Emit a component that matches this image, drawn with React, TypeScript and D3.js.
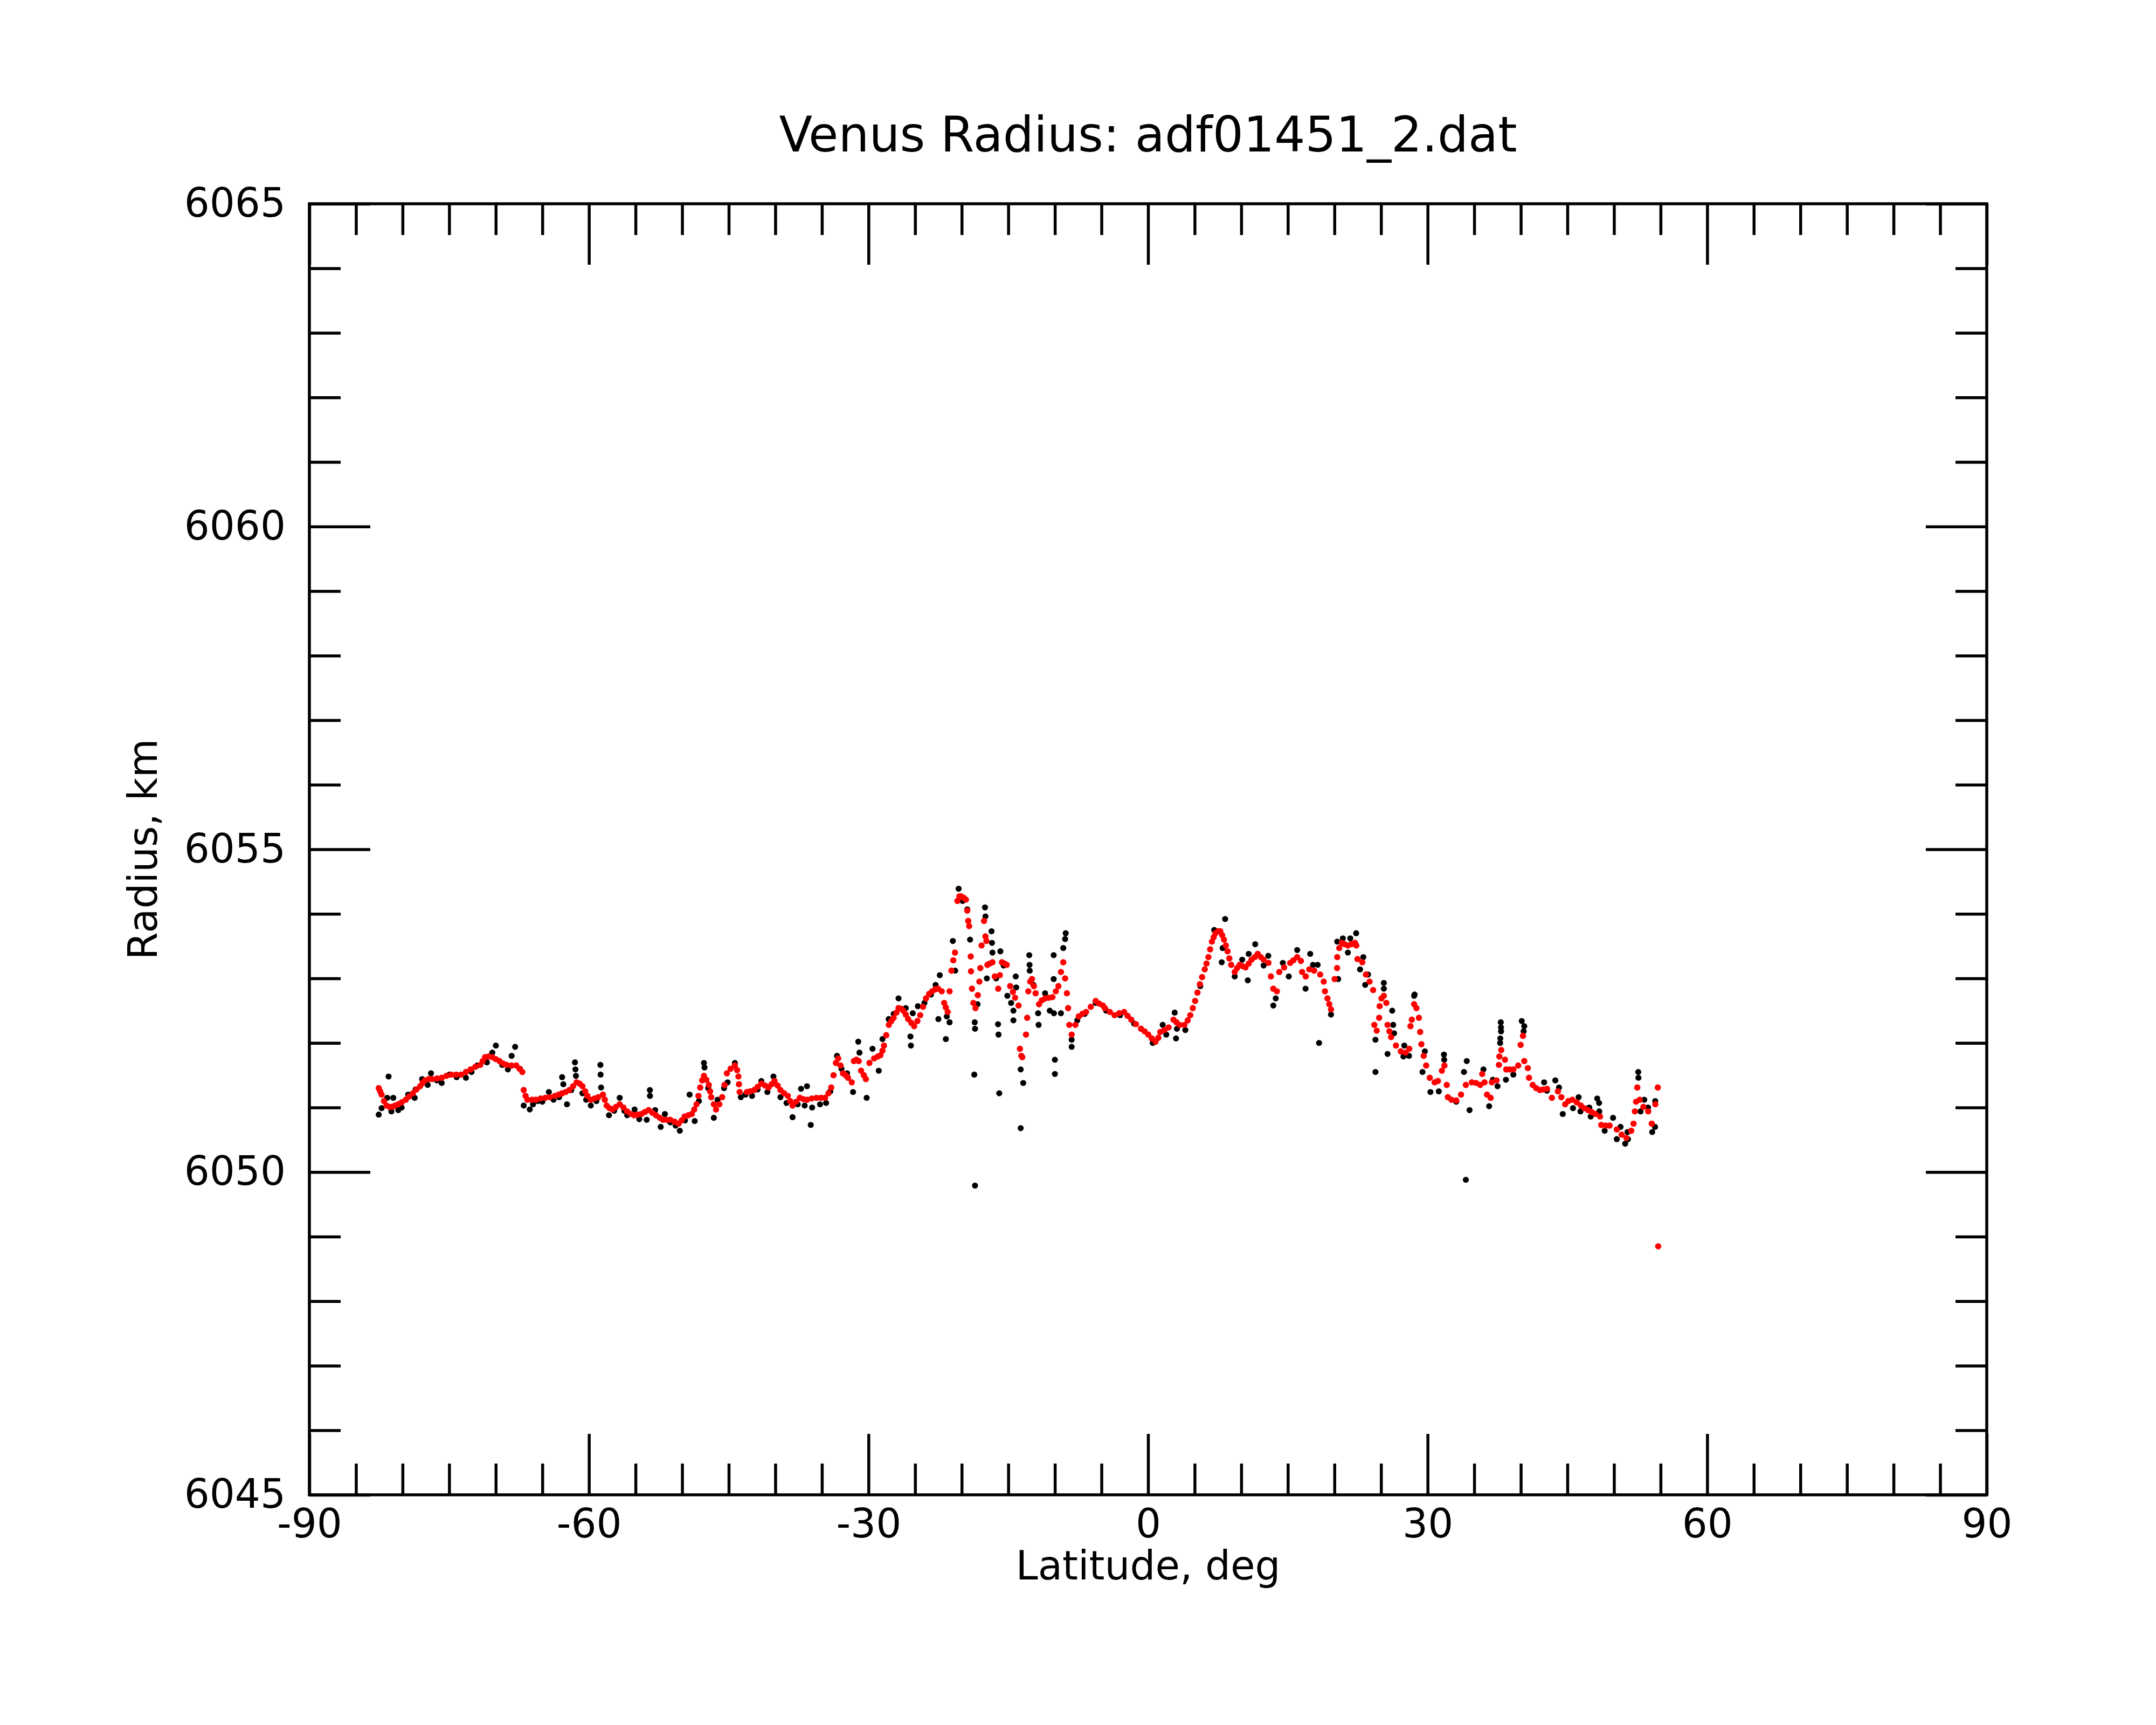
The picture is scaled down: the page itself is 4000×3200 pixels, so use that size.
import { useEffect, useRef } from 'react';
import * as d3 from 'd3';

const W = 4000;
const H = 3200;
const margin = { left: 574, right: 314, top: 378, bottom: 427 };

const title = 'Venus Radius: adf01451_2.dat';
const xLabel = 'Latitude, deg';
const yLabel = 'Radius, km';

const xMajorTicks = [-90, -60, -30, 0, 30, 60, 90];
const xMinorTicks = [-85, -80, -75, -70, -65, -55, -50, -45, -40, -35, -25, -20, -15, -10, -5, 5, 10, 15, 20, 25, 35, 40, 45, 50, 55, 65, 70, 75, 80, 85];
const yMajorTicks = [6045, 6050, 6055, 6060, 6065];
const yMinorTicks = [6046, 6047, 6048, 6049, 6051, 6052, 6053, 6054, 6056, 6057, 6058, 6059, 6061, 6062, 6063, 6064];

// raw radius samples (black), [latitude, radius km]
const rawPoints: [number, number][] = [
  [-82.56, 6050.89], [-82.25, 6050.99], [-81.65, 6051.15], [-81.5, 6051.48], [-81.2, 6050.94], [-81.0, 6051.15],
  [-80.46, 6050.96], [-80.1, 6051.0], [-79.4, 6051.2], [-78.7, 6051.15], [-78.6, 6051.28], [-77.9, 6051.44],
  [-77.3, 6051.35], [-76.95, 6051.53], [-76.3, 6051.42], [-75.8, 6051.38], [-74.98, 6051.51], [-74.2, 6051.47],
  [-73.2, 6051.46], [-72.6, 6051.55], [-72.0, 6051.65], [-70.95, 6051.7], [-70.37, 6051.85], [-69.99, 6051.96],
  [-69.3, 6051.66], [-68.7, 6051.59], [-68.3, 6051.8], [-67.92, 6051.94], [-67.4, 6051.6], [-67.0, 6051.03],
  [-66.35, 6050.97], [-66.0, 6051.05], [-65.5, 6051.1], [-65.0, 6051.09], [-64.3, 6051.24], [-63.8, 6051.12],
  [-63.2, 6051.16], [-62.88, 6051.47], [-62.75, 6051.36], [-62.36, 6051.05], [-61.9, 6051.27], [-61.5, 6051.7],
  [-61.45, 6051.59], [-61.4, 6051.49], [-60.7, 6051.22], [-60.3, 6051.12], [-59.8, 6051.03], [-59.2, 6051.1],
  [-58.77, 6051.66], [-58.75, 6051.51], [-58.7, 6051.31], [-57.85, 6050.88], [-57.3, 6050.95], [-56.7, 6051.15],
  [-56.2, 6050.95], [-55.9, 6050.88], [-55.1, 6050.97], [-54.6, 6050.82], [-53.8, 6050.81], [-53.46, 6051.27],
  [-53.45, 6051.18], [-52.9, 6050.96], [-52.3, 6050.7], [-51.85, 6050.9], [-51.27, 6050.77], [-50.7, 6050.72],
  [-50.25, 6050.64], [-49.7, 6050.8], [-49.2, 6051.2], [-48.65, 6050.79], [-48.2, 6051.1], [-47.66, 6051.69],
  [-47.6, 6051.62], [-47.2, 6051.3], [-46.6, 6050.84], [-46.2, 6051.12], [-45.5, 6051.3], [-45.12, 6051.39],
  [-44.34, 6051.69], [-43.7, 6051.16], [-43.2, 6051.2], [-42.5, 6051.18], [-41.9, 6051.28], [-41.5, 6051.41],
  [-40.85, 6051.24], [-40.2, 6051.48], [-39.45, 6051.16], [-38.8, 6051.07], [-38.15, 6050.85], [-37.6, 6051.05],
  [-37.24, 6051.29], [-36.85, 6051.03], [-36.6, 6051.33], [-36.2, 6050.73], [-36.05, 6051.0], [-35.2, 6051.05],
  [-34.55, 6051.07], [-34.1, 6051.25], [-33.38, 6051.8], [-32.9, 6051.6], [-32.3, 6051.53], [-31.66, 6051.24],
  [-31.1, 6052.02], [-30.97, 6051.85], [-30.2, 6051.15], [-29.57, 6051.91], [-28.9, 6051.57], [-28.5, 6052.06],
  [-27.83, 6052.37], [-27.3, 6052.45], [-26.78, 6052.69], [-26.0, 6052.54], [-25.5, 6052.1], [-25.45, 6051.96],
  [-25.25, 6052.46], [-24.7, 6052.57], [-24.0, 6052.62], [-23.3, 6052.75], [-22.8, 6052.9], [-22.5, 6052.37],
  [-22.35, 6053.05], [-21.7, 6052.06], [-21.6, 6052.41], [-21.3, 6052.32], [-20.95, 6053.58], [-20.7, 6053.12],
  [-20.33, 6054.39], [-19.9, 6054.2], [-19.4, 6054.07], [-19.1, 6053.6], [-18.65, 6051.51], [-18.6, 6052.32],
  [-18.57, 6052.22], [-18.57, 6049.79], [-18.3, 6052.6], [-17.5, 6054.1], [-17.45, 6053.96], [-17.3, 6053.0],
  [-16.8, 6053.73], [-16.75, 6053.55], [-16.7, 6053.4], [-16.3, 6053.0], [-16.1, 6052.29], [-16.05, 6052.13],
  [-15.97, 6051.22], [-15.85, 6053.42], [-15.5, 6053.2], [-15.1, 6052.73], [-14.7, 6052.62], [-14.45, 6052.5],
  [-14.45, 6052.35], [-14.2, 6053.03], [-14.15, 6052.86], [-13.67, 6051.59], [-13.4, 6051.38], [-13.67, 6050.68],
  [-12.75, 6053.36], [-12.72, 6053.21], [-12.7, 6053.12], [-12.3, 6052.9], [-11.8, 6052.46], [-11.75, 6052.28],
  [-11.05, 6052.77], [-10.55, 6052.5], [-10.13, 6053.36], [-10.13, 6052.99], [-10.1, 6052.46], [-10.0, 6051.74],
  [-10.0, 6051.52], [-9.35, 6052.46], [-9.1, 6053.47], [-8.84, 6053.7], [-8.9, 6053.61], [-8.2, 6051.94],
  [-8.2, 6052.05], [-7.6, 6052.35], [-6.8, 6052.45], [-5.62, 6052.62], [-4.5, 6052.5], [-3.0, 6052.43],
  [-1.5, 6052.3], [0.5, 6052.0], [1.57, 6052.28], [1.95, 6052.13], [2.86, 6052.47], [3.0, 6052.07],
  [3.1, 6052.22], [4.0, 6052.2], [5.6, 6052.88], [7.1, 6053.75], [7.9, 6053.25], [8.0, 6053.47],
  [8.27, 6053.92], [9.3, 6053.03], [10.1, 6053.29], [10.7, 6052.97], [10.8, 6053.38], [11.5, 6053.53],
  [12.4, 6053.2], [12.9, 6053.35], [13.44, 6052.58], [13.7, 6052.69], [14.46, 6053.24], [15.1, 6053.03],
  [16.0, 6053.44], [16.9, 6052.84], [17.4, 6053.38], [17.7, 6053.21], [18.2, 6053.21], [18.35, 6052.0],
  [19.63, 6052.44], [20.3, 6053.57], [20.4, 6052.99], [20.9, 6053.62], [21.44, 6053.4], [21.7, 6053.62],
  [22.33, 6053.7], [22.75, 6053.14], [23.1, 6053.33], [23.3, 6052.9], [23.6, 6053.06], [24.4, 6052.05],
  [24.4, 6051.55], [25.3, 6052.93], [25.3, 6052.84], [25.7, 6051.83], [26.2, 6052.5], [26.3, 6052.28],
  [26.4, 6052.15], [27.4, 6051.79], [27.5, 6051.96], [28.0, 6051.8], [28.55, 6052.73], [28.6, 6052.75],
  [29.45, 6051.55], [29.7, 6051.87], [30.3, 6051.24], [31.2, 6051.25], [31.75, 6051.82], [31.78, 6051.74],
  [33.07, 6051.09], [33.9, 6051.55], [34.1, 6049.88], [34.2, 6051.72], [34.5, 6050.96], [35.99, 6051.59],
  [36.6, 6051.02], [37.0, 6051.43], [37.5, 6051.33], [37.85, 6052.32], [37.87, 6052.24], [37.88, 6052.18],
  [37.8, 6052.07], [37.78, 6052.0], [38.4, 6051.43], [39.2, 6051.51], [40.1, 6052.34], [40.37, 6052.26],
  [40.3, 6052.18], [42.5, 6051.39], [42.8, 6051.26], [43.7, 6051.42], [44.1, 6051.31], [44.5, 6050.9],
  [45.6, 6050.99], [46.2, 6051.16], [46.4, 6050.94], [47.35, 6051.0], [47.5, 6050.86], [48.2, 6051.14],
  [48.4, 6051.07], [48.42, 6050.94], [49.0, 6050.64], [49.9, 6050.84], [50.3, 6050.51], [50.7, 6050.7],
  [51.2, 6050.44], [51.45, 6050.62], [51.5, 6050.51], [52.6, 6051.55], [52.62, 6051.46], [52.85, 6050.94],
  [53.25, 6051.12], [53.65, 6051.0], [54.1, 6050.62], [54.4, 6050.7], [54.42, 6051.1],
];

// filtered radius (red), [latitude, radius km]
const filteredPoints: [number, number][] = [
  [-82.56, 6051.3], [-82.4, 6051.25], [-82.25, 6051.2], [-82.0, 6051.1], [-81.73, 6051.03], [-81.4, 6051.01],
  [-81.1, 6051.01], [-80.8, 6051.03], [-80.46, 6051.05], [-80.1, 6051.08], [-79.66, 6051.12], [-79.3, 6051.17],
  [-78.89, 6051.22], [-78.5, 6051.28], [-78.11, 6051.33], [-77.85, 6051.38], [-77.6, 6051.42], [-77.2, 6051.44],
  [-76.82, 6051.44], [-76.3, 6051.45], [-75.8, 6051.46], [-75.3, 6051.49], [-74.76, 6051.51], [-74.25, 6051.51],
  [-73.74, 6051.51], [-73.2, 6051.55], [-72.7, 6051.59], [-72.2, 6051.63], [-71.66, 6051.66], [-71.4, 6051.72],
  [-71.15, 6051.78], [-70.75, 6051.79], [-70.37, 6051.78], [-70.0, 6051.75], [-69.6, 6051.72], [-69.2, 6051.68],
  [-68.83, 6051.66], [-68.3, 6051.65], [-67.8, 6051.65], [-67.45, 6051.6], [-67.15, 6051.55],
  [-67.0, 6051.27], [-66.8, 6051.18], [-66.6, 6051.12], [-66.1, 6051.12], [-65.7, 6051.12], [-65.2, 6051.14],
  [-64.7, 6051.15], [-64.2, 6051.16], [-63.65, 6051.18], [-63.25, 6051.2], [-62.88, 6051.22], [-62.5, 6051.24],
  [-62.1, 6051.27], [-61.7, 6051.33], [-61.33, 6051.39], [-61.0, 6051.37], [-60.7, 6051.33], [-60.4, 6051.25],
  [-60.17, 6051.18], [-59.8, 6051.12], [-59.4, 6051.14], [-59.0, 6051.16], [-58.5, 6051.2], [-58.3, 6051.12],
  [-58.1, 6051.03], [-57.8, 6050.99], [-57.46, 6050.97], [-57.1, 6051.01], [-56.7, 6051.05], [-56.3, 6051.0],
  [-55.9, 6050.94], [-55.5, 6050.9], [-55.15, 6050.88], [-54.75, 6050.89], [-54.37, 6050.9], [-54.0, 6050.93],
  [-53.6, 6050.96], [-53.2, 6050.92], [-52.8, 6050.88], [-52.4, 6050.84], [-52.06, 6050.81], [-51.7, 6050.81],
  [-51.28, 6050.81], [-50.8, 6050.78], [-50.38, 6050.75], [-50.05, 6050.8], [-49.74, 6050.86], [-49.35, 6050.88],
  [-48.96, 6050.9], [-48.7, 6050.97], [-48.45, 6051.05], [-48.25, 6051.18], [-48.06, 6051.31], [-47.85, 6051.42],
  [-47.66, 6051.49], [-47.4, 6051.43], [-47.14, 6051.35], [-47.0, 6051.25], [-46.88, 6051.16], [-46.6, 6051.05],
  [-46.36, 6050.97], [-46.0, 6051.05], [-45.7, 6051.16], [-45.45, 6051.35], [-45.2, 6051.53], [-44.8, 6051.6],
  [-44.34, 6051.65], [-44.1, 6051.58], [-43.96, 6051.48], [-43.9, 6051.36], [-43.83, 6051.24], [-43.06, 6051.24],
  [-42.7, 6051.25], [-42.28, 6051.27], [-41.9, 6051.32], [-41.5, 6051.37], [-41.1, 6051.34], [-40.73, 6051.31],
  [-40.4, 6051.36], [-40.08, 6051.41], [-39.75, 6051.34], [-39.45, 6051.27], [-39.05, 6051.22], [-38.66, 6051.18],
  [-38.4, 6051.1], [-38.15, 6051.03], [-37.75, 6051.09], [-37.37, 6051.15], [-37.0, 6051.13], [-36.6, 6051.12],
  [-36.1, 6051.14], [-35.58, 6051.15], [-35.1, 6051.15], [-34.66, 6051.15], [-34.3, 6051.22], [-34.0, 6051.31],
  [-33.75, 6051.5], [-33.5, 6051.69], [-33.25, 6051.76], [-33.0, 6051.65], [-32.74, 6051.53], [-32.45, 6051.5],
  [-32.2, 6051.46], [-31.8, 6051.39], [-31.57, 6051.72], [-31.3, 6051.74], [-31.05, 6051.72], [-30.8, 6051.57],
  [-30.5, 6051.5], [-30.28, 6051.44], [-29.9, 6051.69], [-29.4, 6051.76], [-29.0, 6051.79], [-28.72, 6051.81],
  [-28.5, 6051.88], [-28.34, 6051.96], [-28.1, 6052.12], [-27.82, 6052.28], [-27.55, 6052.34], [-27.3, 6052.39],
  [-27.0, 6052.47], [-26.78, 6052.54], [-26.5, 6052.53], [-26.26, 6052.5], [-26.0, 6052.44], [-25.75, 6052.37],
  [-25.4, 6052.31], [-25.1, 6052.26], [-24.75, 6052.34], [-24.45, 6052.43], [-24.15, 6052.56], [-23.83, 6052.69],
  [-23.5, 6052.76], [-23.17, 6052.8], [-22.85, 6052.83], [-22.53, 6052.84], [-22.14, 6052.8], [-21.88, 6052.62],
  [-21.7, 6052.55], [-21.5, 6052.48], [-21.3, 6052.8], [-21.1, 6053.12], [-20.9, 6053.28], [-20.72, 6053.4],
  [-20.46, 6054.2], [-20.25, 6054.27], [-20.07, 6054.27], [-19.8, 6054.25], [-19.55, 6054.22], [-19.4, 6054.05],
  [-19.3, 6053.89], [-19.2, 6053.81], [-19.03, 6053.34], [-19.0, 6053.11], [-18.9, 6052.84], [-18.75, 6052.62],
  [-18.52, 6052.54], [-18.27, 6052.74], [-18.1, 6052.95], [-18.0, 6053.16], [-17.87, 6053.51], [-17.6, 6053.89],
  [-17.45, 6053.65], [-17.35, 6053.58], [-17.24, 6053.21], [-17.0, 6053.23], [-16.7, 6053.25], [-16.45, 6053.03],
  [-16.08, 6052.84], [-15.9, 6053.05], [-15.68, 6053.25], [-15.4, 6053.23], [-15.17, 6053.21], [-14.8, 6052.88],
  [-14.5, 6052.79], [-14.27, 6052.7], [-13.9, 6052.58], [-13.75, 6051.91], [-13.6, 6051.8], [-13.5, 6051.78],
  [-13.1, 6052.13], [-12.97, 6052.39], [-12.85, 6052.8], [-12.65, 6052.95], [-12.46, 6052.99], [-12.25, 6052.88],
  [-12.07, 6052.77], [-11.7, 6052.6], [-11.4, 6052.66], [-11.05, 6052.69], [-10.65, 6052.7], [-10.26, 6052.71],
  [-9.9, 6052.8], [-9.62, 6052.88], [-9.35, 6053.1], [-9.1, 6053.25], [-8.9, 6053.0], [-8.71, 6052.77],
  [-8.58, 6052.54], [-8.45, 6052.28], [-8.2, 6052.13], [-7.8, 6052.28], [-7.44, 6052.41], [-7.05, 6052.45],
  [-6.66, 6052.48], [-6.15, 6052.56], [-5.62, 6052.65], [-5.25, 6052.61], [-4.85, 6052.58], [-4.63, 6052.54],
  [-4.1, 6052.48], [-3.6, 6052.43], [-3.1, 6052.46], [-2.57, 6052.48], [-2.2, 6052.42], [-1.8, 6052.36],
  [-1.3, 6052.29], [-0.76, 6052.22], [-0.37, 6052.18], [0.02, 6052.13], [0.4, 6052.07], [0.8, 6052.02],
  [1.1, 6052.08], [1.31, 6052.17], [1.75, 6052.2], [2.2, 6052.24], [2.73, 6052.36], [3.05, 6052.32],
  [3.38, 6052.28], [3.9, 6052.28], [4.25, 6052.35], [4.53, 6052.43], [4.8, 6052.54], [5.05, 6052.65],
  [5.3, 6052.78], [5.56, 6052.91], [5.8, 6053.02], [6.08, 6053.14], [6.27, 6053.23], [6.47, 6053.33],
  [6.66, 6053.45], [6.85, 6053.57], [7.05, 6053.64], [7.24, 6053.7], [7.5, 6053.73], [7.75, 6053.73],
  [7.95, 6053.67], [8.15, 6053.6], [8.35, 6053.51], [8.53, 6053.42], [8.72, 6053.31], [8.92, 6053.21],
  [9.3, 6053.1], [9.55, 6053.16], [9.82, 6053.21], [10.15, 6053.19], [10.46, 6053.17], [10.8, 6053.23],
  [11.1, 6053.29], [11.45, 6053.33], [11.77, 6053.38], [12.1, 6053.33], [12.4, 6053.29], [12.92, 6053.24],
  [13.18, 6053.03], [13.44, 6052.84], [13.82, 6052.8], [14.08, 6053.1], [14.6, 6053.17], [15.25, 6053.24],
  [15.6, 6053.28], [16.0, 6053.33], [16.4, 6053.27], [16.53, 6053.1], [16.92, 6053.03], [17.3, 6053.14],
  [17.82, 6053.12], [18.47, 6053.06], [18.85, 6052.95], [18.98, 6052.8], [19.25, 6052.69], [19.45, 6052.6],
  [19.63, 6052.52], [20.02, 6052.99], [20.28, 6053.16], [20.3, 6053.33], [20.52, 6053.47], [20.79, 6053.55],
  [21.1, 6053.53], [21.44, 6053.51], [21.8, 6053.53], [22.2, 6053.55], [22.35, 6053.51], [22.47, 6053.3],
  [22.99, 6053.25], [23.38, 6053.06], [23.77, 6052.95], [24.15, 6052.82], [24.28, 6052.28], [24.54, 6052.19],
  [24.8, 6052.39], [24.85, 6052.57], [25.05, 6052.69], [25.3, 6052.73], [25.57, 6052.62], [25.7, 6052.28],
  [25.9, 6052.18], [26.08, 6052.09], [26.6, 6051.96], [27.12, 6051.87], [27.64, 6051.85], [28.03, 6051.91],
  [28.16, 6052.26], [28.3, 6052.36], [28.55, 6052.6], [28.8, 6052.54], [29.06, 6052.39], [29.2, 6052.17],
  [29.33, 6051.98], [29.58, 6051.8], [29.84, 6051.65], [30.23, 6051.46], [30.75, 6051.39], [31.1, 6051.41],
  [31.53, 6051.57], [31.8, 6051.65], [32.05, 6051.35], [32.17, 6051.16], [32.56, 6051.12], [33.07, 6051.11],
  [33.58, 6051.2], [34.1, 6051.35], [34.74, 6051.39], [35.2, 6051.38], [35.64, 6051.35], [35.86, 6051.52],
  [36.11, 6051.39], [36.37, 6051.2], [36.76, 6051.15], [36.89, 6051.39], [37.4, 6051.42], [37.65, 6051.66],
  [37.7, 6051.79], [37.9, 6051.89], [38.3, 6051.74], [38.43, 6051.59], [38.8, 6051.59], [39.2, 6051.59],
  [39.72, 6051.65], [39.98, 6051.97], [40.23, 6052.11], [40.37, 6051.72], [40.75, 6051.61], [40.88, 6051.46],
  [41.27, 6051.35], [41.65, 6051.3], [42.04, 6051.27], [42.4, 6051.28], [42.81, 6051.29], [43.33, 6051.15],
  [43.98, 6051.25], [44.35, 6051.16], [44.76, 6051.05], [45.1, 6051.1], [45.53, 6051.12], [46.0, 6051.08],
  [46.44, 6051.03], [46.8, 6050.99], [47.21, 6050.96], [47.6, 6050.93], [47.99, 6050.9], [48.5, 6050.86],
  [48.63, 6050.73], [49.1, 6050.72], [49.53, 6050.72], [50.3, 6050.66], [50.82, 6050.58], [51.33, 6050.53],
  [51.85, 6050.64], [52.1, 6050.75], [52.24, 6050.94], [52.37, 6051.09], [52.5, 6051.31], [52.76, 6051.12],
  [53.15, 6051.01], [53.67, 6050.94], [54.05, 6050.75], [54.44, 6051.05], [54.7, 6051.31], [54.74, 6048.85],
];

const FONT = '"DejaVu Sans", Verdana, sans-serif';

export default function App() {
  const svgRef = useRef<SVGSVGElement>(null);

  useEffect(() => {
    if (!svgRef.current) return;
    const svg = d3.select(svgRef.current);
    svg.selectAll('*').remove();

    const x0 = margin.left;
    const x1 = W - margin.right;
    const y0 = margin.top;
    const y1 = H - margin.bottom;

    const x = d3.scaleLinear().domain([-90, 90]).range([x0, x1]);
    const y = d3.scaleLinear().domain([6045, 6065]).range([y1, y0]);

    svg.append('rect').attr('width', W).attr('height', H).attr('fill', '#fff');

    const styleAxis = (g: any) => {
      g.select('.domain').remove();
      g.selectAll('line').attr('stroke', '#000').attr('stroke-width', 5.5);
      g.selectAll('text').attr('fill', '#000').style('font-family', FONT).style('font-size', '74px');
    };

    const MAJOR = 113;
    const MINOR = 58;
    const plain = (d: any) => String(d);
    const none = () => '';

    // bottom
    svg.append('g').attr('transform', `translate(0,${y1})`)
      .call(d3.axisBottom(x).tickValues(xMajorTicks).tickSize(-MAJOR).tickPadding(26).tickFormat(plain))
      .call(styleAxis);
    svg.append('g').attr('transform', `translate(0,${y1})`)
      .call(d3.axisBottom(x).tickValues(xMinorTicks).tickSize(-MINOR).tickFormat(none))
      .call(styleAxis);
    // top
    svg.append('g').attr('transform', `translate(0,${y0})`)
      .call(d3.axisTop(x).tickValues(xMajorTicks).tickSize(-MAJOR).tickFormat(none))
      .call(styleAxis);
    svg.append('g').attr('transform', `translate(0,${y0})`)
      .call(d3.axisTop(x).tickValues(xMinorTicks).tickSize(-MINOR).tickFormat(none))
      .call(styleAxis);
    // left
    svg.append('g').attr('transform', `translate(${x0},0)`)
      .call(d3.axisLeft(y).tickValues(yMajorTicks).tickSize(-MAJOR).tickPadding(44).tickFormat(plain))
      .call(styleAxis);
    svg.append('g').attr('transform', `translate(${x0},0)`)
      .call(d3.axisLeft(y).tickValues(yMinorTicks).tickSize(-MINOR).tickFormat(none))
      .call(styleAxis);
    // right
    svg.append('g').attr('transform', `translate(${x1},0)`)
      .call(d3.axisRight(y).tickValues(yMajorTicks).tickSize(-MAJOR).tickFormat(none))
      .call(styleAxis);
    svg.append('g').attr('transform', `translate(${x1},0)`)
      .call(d3.axisRight(y).tickValues(yMinorTicks).tickSize(-MINOR).tickFormat(none))
      .call(styleAxis);

    // frame
    svg.append('rect')
      .attr('x', x0).attr('y', y0)
      .attr('width', x1 - x0).attr('height', y1 - y0)
      .attr('fill', 'none').attr('stroke', '#000').attr('stroke-width', 5.5);

    const plot = svg.append('g');

    plot.selectAll('circle.raw').data(rawPoints).enter().append('circle')
      .attr('class', 'raw')
      .attr('cx', d => x(d[0]))
      .attr('cy', d => y(d[1]))
      .attr('r', 5.6)
      .attr('fill', '#000');

    plot.selectAll('circle.filt').data(filteredPoints).enter().append('circle')
      .attr('class', 'filt')
      .attr('cx', d => x(d[0]))
      .attr('cy', d => y(d[1]))
      .attr('r', 5.8)
      .attr('fill', '#ff0000');

    svg.append('text')
      .attr('x', (x0 + x1) / 2).attr('y', 281)
      .attr('text-anchor', 'middle')
      .style('font-family', FONT).style('font-size', '90px')
      .text(title);

    svg.append('text')
      .attr('x', (x0 + x1) / 2).attr('y', 2930)
      .attr('text-anchor', 'middle')
      .style('font-family', FONT).style('font-size', '74px')
      .text(xLabel);

    svg.append('text')
      .attr('transform', `translate(291,${(y0 + y1) / 2}) rotate(-90)`)
      .attr('text-anchor', 'middle')
      .style('font-family', FONT).style('font-size', '74px')
      .text(yLabel);
  }, []);

  return (
    <svg
      ref={svgRef}
      width={W}
      height={H}
      style={{ position: 'absolute', left: 0, top: 0, display: 'block' }}
    />
  );
}
